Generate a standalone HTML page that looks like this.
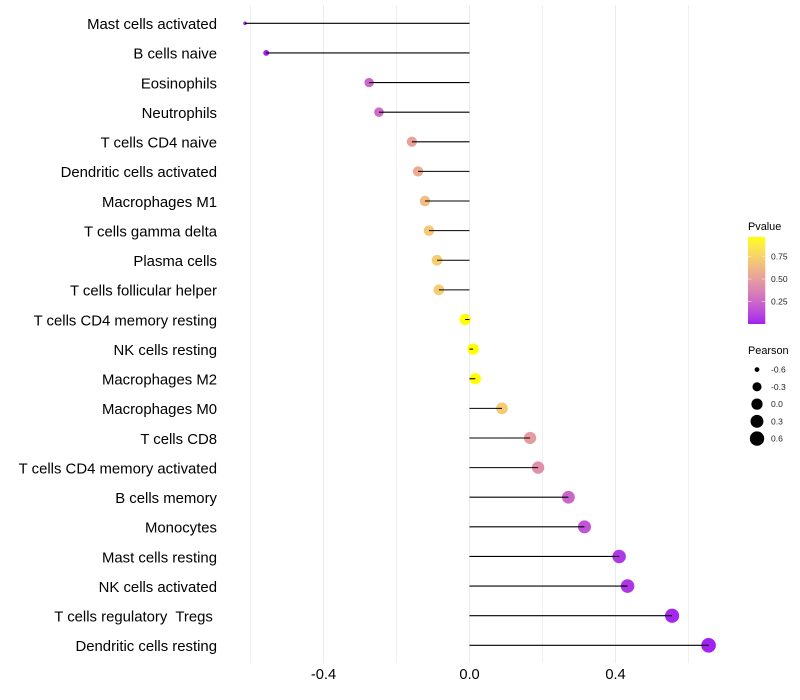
<!DOCTYPE html>
<html>
<head>
<meta charset="utf-8">
<title>Immune cell correlation lollipop chart</title>
<style>
html,body{margin:0;padding:0;background:#fff;width:800px;height:700px;overflow:hidden}
svg{display:block;font-family:"Liberation Sans",sans-serif}
</style>
</head>
<body>
<svg id="chart" width="800" height="700" viewBox="0 0 800 700" xmlns="http://www.w3.org/2000/svg">
<defs><linearGradient id="pg" x1="0" y1="1" x2="0" y2="0"></linearGradient></defs>
<rect width="800" height="700" fill="#fff"/>
<g id="grid"></g>
<g id="dots"></g>
<g id="stems"></g>
<g id="ylabels"></g>
<g id="xlabels"></g>
<g id="legend-p"></g>
<g id="legend-s"></g>
</svg>
<script>
const categories = ["Mast cells activated","B cells naive","Eosinophils","Neutrophils","T cells CD4 naive","Dendritic cells activated","Macrophages M1","T cells gamma delta","Plasma cells","T cells follicular helper","T cells CD4 memory resting","NK cells resting","Macrophages M2","Macrophages M0","T cells CD8","T cells CD4 memory activated","B cells memory","Monocytes","Mast cells resting","NK cells activated","T cells regulatory  Tregs ","Dendritic cells resting"];
const pearson = [-0.615,-0.557,-0.275,-0.248,-0.158,-0.141,-0.122,-0.111,-0.089,-0.084,-0.012,0.010,0.016,0.089,0.166,0.188,0.271,0.315,0.410,0.433,0.555,0.655];
const pvalue = [0.002,0.005,0.24,0.27,0.52,0.56,0.65,0.70,0.72,0.72,0.966,0.966,0.966,0.71,0.49,0.43,0.24,0.17,0.07,0.06,0.02,0.002];
const xTicks = [-0.4,0,0.4];
const xTickLabels = ["-0.4","0.0","0.4"];
const xMinorTicks = [-0.6,-0.2,0.2,0.6];
const pLegendTicks = [0.25,0.5,0.75];
const pLegendLabels = ["0.25","0.50","0.75"];
const sizeLegendValues = [-0.6,-0.3,0,0.3,0.6];
const sizeLegendLabels = ["-0.6","-0.3","0.0","0.3","0.6"];

const NS = "http://www.w3.org/2000/svg";
function mk(tag, parent, attrs){
  const el = document.createElementNS(NS, tag);
  for (const k in attrs) el.setAttribute(k, attrs[k]);
  parent.appendChild(el);
  return el;
}
const $ = id => document.getElementById(id);

/* axis functions */
const xScale = v => 469.5 + v * 365;
const yScale = i => 23.3 + i * 29.62;
const sizeScale = v => {
  const t = Math.max(0, Math.min(1, (v + 0.615) / 1.27));
  return 1.8 + 5.5 * Math.sqrt(t);
};
const pBarY = p => 324 - p * 90;

/* Lab colour interpolation purple -> yellow */
const labLow = [45.36, 78.75, -77.4];
const labHigh = [97.14, -21.55, 94.48];
function labToHex(L, a, b){
  const fy = (L + 16) / 116, fx = fy + a / 500, fz = fy - b / 200;
  const inv = t => t > 0.206893 ? t * t * t : (t - 16 / 116) / 7.787;
  const X = 0.95047 * inv(fx), Y = inv(fy), Z = 1.08883 * inv(fz);
  const lin = [
    3.2406 * X - 1.5372 * Y - 0.4986 * Z,
    -0.9689 * X + 1.8758 * Y + 0.0415 * Z,
    0.0557 * X - 0.2040 * Y + 1.0570 * Z
  ];
  return "#" + lin.map(c => {
    c = Math.max(0, Math.min(1, c));
    const s = c <= 0.0031308 ? 12.92 * c : 1.055 * Math.pow(c, 1 / 2.4) - 0.055;
    return Math.round(s * 255).toString(16).padStart(2, "0");
  }).join("");
}
function colorScale(p){
  const t = Math.max(0, Math.min(1, p / 0.966));
  return labToHex(
    labLow[0] + (labHigh[0] - labLow[0]) * t,
    labLow[1] + (labHigh[1] - labLow[1]) * t,
    labLow[2] + (labHigh[2] - labLow[2]) * t
  );
}

/* gridlines */
xMinorTicks.forEach(v => {
  const g = mk("line", $("grid"), {x1: xScale(v), x2: xScale(v), y1: 5, y2: 663, stroke: "#ececec", "stroke-width": 0.8});
  
  
});
xTicks.forEach(v => {
  const g = mk("line", $("grid"), {x1: xScale(v), x2: xScale(v), y1: 5, y2: 663, stroke: "#ebebeb", "stroke-width": 1});
  
  
});

/* lollipops */
categories.forEach((name, i) => {
  const dot = mk("circle", $("dots"), {cx: xScale(pearson[i]), cy: yScale(i), r: sizeScale(pearson[i]), fill: colorScale(pvalue[i])});
  
  
  const stem = mk("line", $("stems"), {x1: xScale(0), x2: xScale(pearson[i]), y1: yScale(i), y2: yScale(i), stroke: "#000", "stroke-width": 1.07});
  
  
  const lab = mk("text", $("ylabels"), {x: 217, y: yScale(i) + 5.8, "text-anchor": "end", "font-size": 14.9, fill: "#000", "xml:space": "preserve"});
  lab.style.whiteSpace = "pre";
  lab.textContent = name;
  
  
});

/* x tick labels */
xTicks.forEach((v, i) => {
  const t = mk("text", $("xlabels"), {x: xScale(v), y: 679, "text-anchor": "middle", "font-size": 14.67, fill: "#000"});
  t.textContent = xTickLabels[i];
  
  
});

/* p-value legend */
const stopsN = 20;
for (let k = 0; k <= stopsN; k++) {
  const s = mk("stop", $("pg"), {offset: k / stopsN, "stop-color": colorScale(0.966 * k / stopsN)});
}
const pTitle = mk("text", $("legend-p"), {x: 748, y: 230, "font-size": 10.9, fill: "#000"});
pTitle.textContent = "Pvalue";


const bar = mk("rect", $("legend-p"), {x: 748, y: 237, width: 17.3, height: 87, fill: "url(#pg)"});


pLegendTicks.forEach((p, i) => {
  const y = pBarY(p);
  [[748, 751.5], [761.8, 765.3]].forEach(seg => {
    const tk = mk("line", $("legend-p"), {x1: seg[0], x2: seg[1], y1: y, y2: y, stroke: "#fff", "stroke-opacity": 0.8, "stroke-width": 0.6});
    
    
  });
  const t = mk("text", $("legend-p"), {x: 771, y: y + 3, "font-size": 8.53, fill: "#222"});
  t.textContent = pLegendLabels[i];
  
  
});

/* pearson legend */
const sTitle = mk("text", $("legend-s"), {x: 748, y: 354, "font-size": 10.9, fill: "#000"});
sTitle.textContent = "Pearson";


sizeLegendValues.forEach((v, i) => {
  const y = 369.6 + i * 17.25;
  const c = mk("circle", $("legend-s"), {cx: 757, cy: y, r: sizeScale(v), fill: "#000"});
  
  
  const t = mk("text", $("legend-s"), {x: 771, y: y + 3, "font-size": 8.53, fill: "#222"});
  t.textContent = sizeLegendLabels[i];
  
  
});
</script>
</body>
</html>
